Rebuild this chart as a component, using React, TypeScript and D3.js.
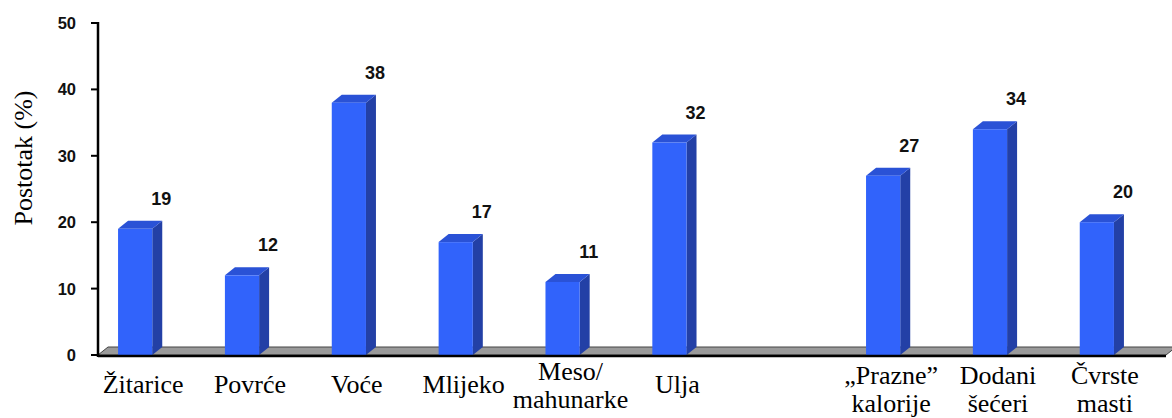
import React from 'react';
import * as d3 from 'd3';

// categories (empty slot "gap" separates the two groups)
const categories = ['Žitarice', 'Povrće', 'Voće', 'Mlijeko', 'Meso/mahunarke', 'Ulja', 'gap', 'Prazne', 'Dodani', 'Čvrste'];
const labelLines: string[][] = [
  ['Žitarice'],
  ['Povrće'],
  ['Voće'],
  ['Mlijeko'],
  ['Meso/', 'mahunarke'],
  ['Ulja'],
  [],
  ['„Prazne”', 'kalorije'],
  ['Dodani', 'šećeri'],
  ['Čvrste', 'masti'],
];
const values: (number | null)[] = [19, 12, 38, 17, 11, 32, null, 27, 34, 20];
const yTicks = [0, 10, 20, 30, 40, 50];
const yTitle = 'Postotak (%)';

const W = 1172;
const H = 418;
const axisX = 98;
const floorRight = 1166;
const dx = 10;
const dy = 8;

const serif = "'Liberation Serif', 'Times New Roman', Times, serif";
const sans = "'Liberation Sans', Arial, Helvetica, sans-serif";

const App: React.FC = () => {
  const x = d3.scaleBand<string>()
    .domain(categories)
    .range([86, 1146])
    .paddingInner(0.68)
    .paddingOuter(0.3);

  const y = d3.scaleLinear().domain([0, 50]).range([355, 23]);
  const y0 = y(0);
  const bw = x.bandwidth();

  const floor = [
    [axisX, y0],
    [floorRight, y0],
    [floorRight + dx, y0 - dy],
    [axisX + dx, y0 - dy],
  ].map(p => p.join(',')).join(' ');

  return (
    <div style={{ position: 'absolute', left: 0, top: 0, width: W, height: H, background: '#fff' }}>
      <svg width={W} height={H} viewBox={`0 0 ${W} ${H}`}>
        {/* floor */}
        <polygon points={floor} fill="#9a9a9a" stroke="#444" strokeWidth={1} />

        {/* bars */}
        {categories.map((c, i) => {
          const v = values[i];
          if (v == null) return null;
          const x0 = x(c)!;
          const yt = y(v);
          const side = [
            [x0 + bw, yt], [x0 + bw + dx, yt - dy], [x0 + bw + dx, y0 - dy], [x0 + bw, y0],
          ].map(p => p.join(',')).join(' ');
          const top = [
            [x0, yt], [x0 + dx, yt - dy], [x0 + bw + dx, yt - dy], [x0 + bw, yt],
          ].map(p => p.join(',')).join(' ');
          return (
            <g key={c}>
              <polygon points={side} fill="#2340a6" />
              <polygon points={top} fill="#2a52d6" />
              <rect x={x0} y={yt} width={bw} height={y0 - yt} fill="#3163fb" />
              <text
                x={x0 + bw + 9}
                y={yt - dy - 16}
                textAnchor="middle"
                style={{ fontFamily: sans, fontWeight: 'bold', fontSize: 18 }}
                fill="#111"
              >
                {v}
              </text>
            </g>
          );
        })}

        {/* front edge of the floor */}
        <line x1={axisX} x2={floorRight} y1={y0 + 1} y2={y0 + 1} stroke="#000" strokeWidth={2.5} />

        {/* y axis */}
        <line x1={axisX} x2={axisX} y1={y(50) - 1} y2={y0 + 2} stroke="#000" strokeWidth={2.5} />
        {yTicks.map(t => (
          <g key={t}>
            <line x1={axisX - 7} x2={axisX} y1={y(t)} y2={y(t)} stroke="#000" strokeWidth={2} />
            <text
              x={76}
              y={y(t) + 6}
              textAnchor="end"
              style={{ fontFamily: sans, fontWeight: 'bold', fontSize: 16.5 }}
              fill="#111"
            >
              {t}
            </text>
          </g>
        ))}

        {/* y title */}
        <text
          transform={`translate(32,158) rotate(-90)`}
          textAnchor="middle"
          style={{ fontFamily: serif, fontSize: 26 }}
          fill="#000"
        >
          {yTitle}
        </text>

        {/* category labels */}
        {categories.map((c, i) => {
          const lines = labelLines[i];
          if (!lines.length) return null;
          const cx = x(c)! + bw / 2 + 8;
          const base = lines.length === 1 ? 393 : (i < 6 ? 380 : 384);
          return (
            <text key={c} textAnchor="middle" style={{ fontFamily: serif, fontSize: 26 }} fill="#000">
              {lines.map((l, j) => (
                <tspan key={j} x={cx} y={base + j * 28}>{l}</tspan>
              ))}
            </text>
          );
        })}
      </svg>
    </div>
  );
};

export default App;
